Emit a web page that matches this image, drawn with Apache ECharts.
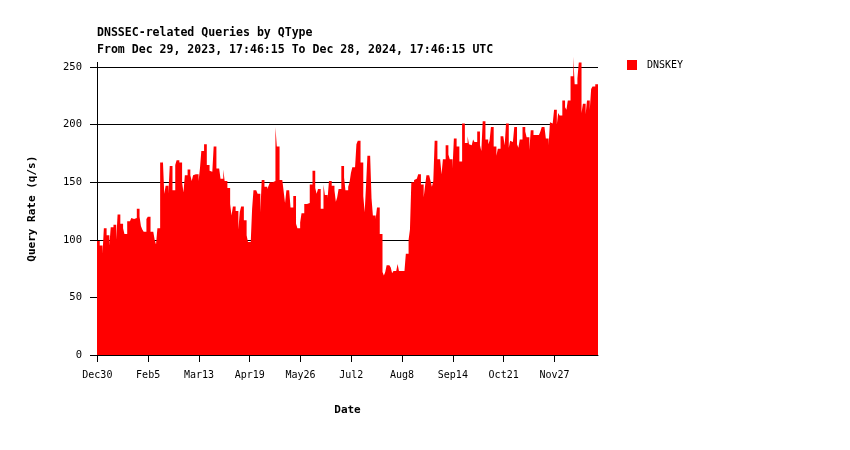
<!DOCTYPE html>
<html><head><meta charset="utf-8">
<script src="https://cdn.jsdelivr.net/npm/echarts@6/dist/echarts.min.js"></script>
<style>html,body{margin:0;padding:0;background:#fff}#c{width:850px;height:450px}</style>
</head><body><div id="c"></div>
<script>
// Title lines
const titleLines = ['DNSSEC-related Queries by QType', 'From Dec 29, 2023, 17:46:15 To Dec 28, 2024, 17:46:15 UTC'];
const seriesName = 'DNSKEY';
const yAxisName = 'Query Rate (q/s)';
const xAxisName = 'Date';
// Range of the chart (UTC)
const rangeStart = Date.UTC(2023, 11, 29, 17, 46, 15);
const rangeEnd = Date.UTC(2024, 11, 28, 17, 46, 15);
// X tick labels and their dates
const xTickLabels = ['Dec30', 'Feb5', 'Mar13', 'Apr19', 'May26', 'Jul2', 'Aug8', 'Sep14', 'Oct21', 'Nov27'];
const xTickDates = ['2023-12-30', '2024-02-05', '2024-03-13', '2024-04-19', '2024-05-26', '2024-07-02', '2024-08-08', '2024-09-14', '2024-10-21', '2024-11-27'];
// Y ticks
const yTicks = [0, 50, 100, 150, 200, 250];
// Daily DNSKEY query rate (q/s), one value per day from the range start
const dnskey = [
  99, 99, 95, 95, 88, 110, 110, 104, 104, 95,
  111, 111, 113, 113, 100, 122, 122, 114, 114, 110,
  105, 105, 116, 116, 116, 119, 118, 118, 119, 127,
  127, 120, 112, 109, 107, 107, 118, 120, 120, 107,
  107, 107, 100, 96, 110, 110, 167, 167, 169, 140,
  147, 147, 140, 164, 164, 143, 143, 165, 169, 169,
  167, 167, 150, 141, 156, 156, 161, 161, 156, 151,
  156, 157, 157, 157, 151, 162, 177, 177, 183, 183,
  165, 165, 160, 159, 159, 181, 181, 162, 162, 162,
  153, 153, 161, 151, 151, 145, 145, 131, 121, 129,
  129, 125, 125, 109, 124, 129, 129, 117, 117, 104,
  98, 98, 98, 127, 143, 143, 143, 140, 140, 124,
  152, 152, 146, 146, 144, 147, 150, 150, 151, 151,
  198, 181, 181, 152, 152, 152, 142, 132, 143, 143,
  143, 128, 128, 138, 138, 114, 110, 110, 115, 123,
  123, 131, 131, 131, 132, 148, 148, 160, 160, 145,
  140, 144, 144, 127, 127, 148, 139, 139, 136, 151,
  151, 147, 147, 143, 133, 137, 144, 144, 164, 164,
  154, 143, 143, 146, 150, 158, 163, 163, 163, 183,
  186, 186, 167, 167, 138, 124, 147, 173, 173, 173,
  136, 121, 121, 118, 128, 128, 105, 105, 72, 69,
  72, 78, 78, 78, 76, 71, 73, 73, 73, 79,
  73, 73, 73, 73, 72, 88, 88, 100, 109, 150,
  150, 152, 153, 153, 157, 157, 148, 148, 137, 147,
  156, 156, 156, 151, 146, 151, 186, 186, 170, 170,
  170, 157, 170, 170, 182, 182, 174, 170, 170, 162,
  188, 188, 181, 181, 168, 168, 201, 201, 184, 184,
  190, 183, 182, 182, 187, 185, 185, 194, 194, 182,
  177, 203, 203, 187, 187, 183, 186, 198, 198, 181,
  181, 173, 179, 179, 190, 190, 190, 182, 201, 201,
  180, 186, 185, 185, 198, 198, 183, 180, 187, 187,
  198, 198, 194, 189, 189, 178, 195, 195, 191, 191,
  190, 191, 191, 194, 198, 198, 198, 188, 188, 182,
  202, 201, 201, 213, 213, 200, 210, 208, 208, 221,
  221, 215, 213, 221, 221, 242, 242, 259, 235, 235,
  240, 254, 254, 210, 218, 218, 209, 221, 221, 213,
  231, 233, 233, 235, 235
];

const DAY = 86400000;
const spanDays = (rangeEnd - rangeStart) / DAY;
// x = days since the range start
const seriesData = dnskey.map((v, i) => [i, v]);
seriesData.push([spanDays, dnskey[dnskey.length - 1]]);
const xTickValues = xTickDates.map(d => (Date.parse(d + 'T00:00:00Z') - rangeStart) / DAY);
const labelFor = v => {
  let best = -1, bd = 1e9;
  xTickValues.forEach((t, i) => { const dd = Math.abs(t - v); if (dd < bd) { bd = dd; best = i; } });
  return bd < 0.01 ? xTickLabels[best] : '';
};

const FONT = 'DejaVu Sans Mono';
const chart = echarts.init(document.getElementById('c'), null, { renderer: 'canvas' });
chart.setOption({
  animation: false,
  backgroundColor: '#ffffff',
  title: {
    text: titleLines.join('\n'),
    left: 97, top: 24,
    padding: 0,
    textStyle: { fontFamily: FONT, fontSize: 11.55, fontWeight: 'bold', color: '#000', lineHeight: 17 }
  },
  legend: {
    left: 627, top: 60,
    padding: 0,
    itemWidth: 10, itemHeight: 10,
    icon: 'rect',
    textStyle: { fontFamily: FONT, fontSize: 10, color: '#000', padding: [0, 0, 0, 5] },
    data: [seriesName]
  },
  grid: { left: 97, right: 252, top: 62.4, bottom: 95, containLabel: false },
  xAxis: {
    type: 'value',
    min: 0, max: spanDays,
    name: xAxisName, nameLocation: 'middle', nameGap: 50,
    nameTextStyle: { fontFamily: FONT, fontSize: 11, fontWeight: 'bold', color: '#000' },
    axisLine: { show: true, onZero: false, lineStyle: { color: '#000', width: 1 } },
    axisTick: { show: true, length: 7, lineStyle: { color: '#000' }, customValues: xTickValues },
    axisLabel: {
      customValues: xTickValues, margin: 15, color: '#000', fontFamily: FONT, fontSize: 10,
      formatter: labelFor
    },
    splitLine: { show: false }
  },
  yAxis: {
    type: 'value',
    min: 0, max: 254,
    name: yAxisName, nameLocation: 'middle', nameGap: 59, nameRotate: 90,
    nameTextStyle: { fontFamily: FONT, fontSize: 11, fontWeight: 'bold', color: '#000' },
    axisLine: { show: true, onZero: false, lineStyle: { color: '#000', width: 1 } },
    axisTick: { show: true, length: 7, lineStyle: { color: '#000' }, customValues: yTicks },
    axisLabel: { customValues: yTicks, margin: 15, color: '#000', fontFamily: FONT, fontSize: 10.5 },
    splitLine: { show: true, lineStyle: { color: '#000', width: 1, type: 'solid' } }
  },
  series: [{
    name: seriesName,
    type: 'line',
    step: 'end',
    data: seriesData,
    symbol: 'none',
    clip: false,
    color: '#ff0000',
    lineStyle: { width: 0, color: '#ff0000' },
    areaStyle: { color: '#ff0000', opacity: 1 },
    emphasis: { disabled: true }
  }]
});
</script></body></html>
